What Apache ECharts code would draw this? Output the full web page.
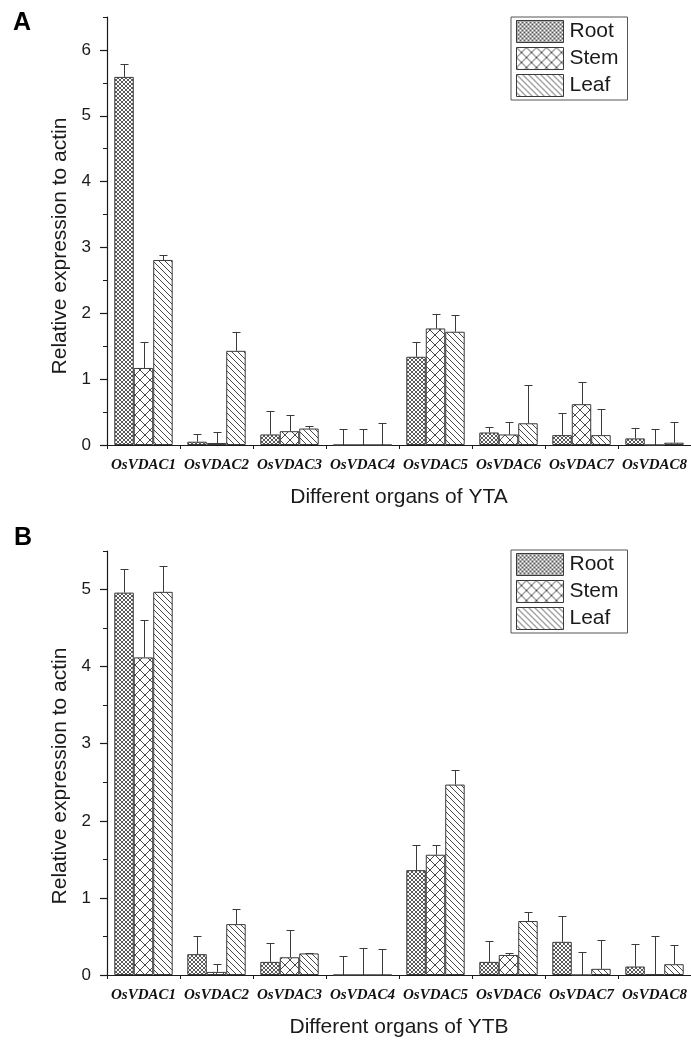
<!DOCTYPE html>
<html><head><meta charset="utf-8">
<script src="https://cdn.jsdelivr.net/npm/echarts@6/dist/echarts.min.js"></script>
<style>html,body{margin:0;padding:0;background:#fff}#c{width:691px;height:1045px}</style>
</head><body><div id="c"></div>
<script>
// ---- data ----
const categories = ['OsVDAC1','OsVDAC2','OsVDAC3','OsVDAC4','OsVDAC5','OsVDAC6','OsVDAC7','OsVDAC8'];
const organs = ['Root','Stem','Leaf'];

// Panel A (YTA)
const rootA    = [5.59, 0.05, 0.16, 0, 1.34, 0.19, 0.15, 0.10];
const stemA    = [1.17, 0.03, 0.21, 0, 1.77, 0.16, 0.62, 0];
const leafA    = [2.81, 1.43, 0.25, 0, 1.72, 0.33, 0.15, 0.035];
const rootErrA = [0.19, 0.11, 0.36, 0.25, 0.22, 0.09, 0.33, 0.16];
const stemErrA = [0.40, 0.17, 0.25, 0.25, 0.22, 0.19, 0.33, 0.24];
const leafErrA = [0.08, 0.28, 0.04, 0.34, 0.26, 0.58, 0.39, 0.31];

// Panel B (YTB)
const rootB    = [4.96, 0.27, 0.17, 0, 1.36, 0.17, 0.43, 0.11];
const stemB    = [4.12, 0.04, 0.23, 0, 1.56, 0.26, 0, 0.01];
const leafB    = [4.97, 0.66, 0.28, 0, 2.47, 0.70, 0.08, 0.14];
const rootErrB = [0.31, 0.24, 0.24, 0.25, 0.32, 0.27, 0.33, 0.29];
const stemErrB = [0.48, 0.10, 0.35, 0.35, 0.12, 0.03, 0.30, 0.50];
const leafErrB = [0.34, 0.20, 0.01, 0.34, 0.19, 0.12, 0.38, 0.25];

const yTicksA = [0, 1, 2, 3, 4, 5, 6];
const yMinorA = [0.5, 1.5, 2.5, 3.5, 4.5, 5.5, 6.5];
const yTicksB = [0, 1, 2, 3, 4, 5];
const yMinorB = [0.5, 1.5, 2.5, 3.5, 4.5, 5.5];
const yMaxA = 6.5, yMaxB = 5.5;

// ---- patterns ----
function pattern(kind) {
  const s = kind === 'root' ? 4 : (kind === 'stem' ? 10 : 6);
  const c = document.createElement('canvas');
  c.width = s; c.height = s;
  const g = c.getContext('2d');
  g.fillStyle = '#fff'; g.fillRect(0, 0, s, s);
  g.strokeStyle = kind === 'root' ? '#5a5a5a' : '#484848';
  g.lineWidth = 1;
  g.beginPath();
  for (let k = -1; k <= 1; k++) {
    g.moveTo(k * s, 0); g.lineTo(k * s + s, s);
    if (kind !== 'leaf') { g.moveTo(k * s + s, 0); g.lineTo(k * s, s); }
  }
  g.stroke();
  return { image: c, repeat: 'repeat' };
}
const fills = { Root: pattern('root'), Stem: pattern('stem'), Leaf: pattern('leaf') };

const FONT = 'Arial, "Liberation Sans", sans-serif';
const SERIF = '"Times New Roman", "Liberation Serif", serif';
const INK = '#1a1a1a';
const CAT_GAP = 0.2;

function errRender(params, api) {
  const cat = api.value(0), mean = api.value(1), err = api.value(2), k = api.value(3);
  const band = api.size([1, 0])[0];
  const bw = band * (1 - CAT_GAP) / 3;
  const base = api.coord([cat, mean]);
  const top = api.coord([cat, mean + err]);
  const x = Math.round(base[0] + (k - 1) * bw) + 0.5;
  const yt = Math.round(top[1]) + 0.5;
  const st = { stroke: '#3a3a3a', lineWidth: 1 };
  return { type: 'group', children: [
    { type: 'line', shape: { x1: x, y1: base[1], x2: x, y2: yt }, style: st },
    { type: 'line', shape: { x1: x - 4, y1: yt, x2: x + 4, y2: yt }, style: st }
  ]};
}

function errData(r, s, l, re, se, le) {
  const out = [];
  categories.forEach((c, i) => {
    out.push([i, r[i], re[i], 0]);
    out.push([i, s[i], se[i], 1]);
    out.push([i, l[i], le[i], 2]);
  });
  return out;
}

function xAxes(gi, title) {
  return [
    { type: 'category', gridIndex: gi, data: categories, position: 'bottom',
      axisLine: { lineStyle: { color: INK, width: 1.2 } },
      axisTick: { alignWithLabel: true, length: 8, lineStyle: { color: INK, width: 1.2 } },
      axisLabel: { interval: 0, hideOverlap: false, margin: 13, fontSize: 15, fontFamily: SERIF,
        fontWeight: 'bold', fontStyle: 'italic', color: '#111' },
      name: title, nameLocation: 'middle', nameGap: 42,
      nameTextStyle: { fontSize: 21, fontFamily: FONT, color: INK } },
    { type: 'category', gridIndex: gi, data: categories, position: 'bottom',
      axisLine: { show: false },
      axisTick: { show: true, interval: 0, length: 4, lineStyle: { color: INK, width: 1 } },
      axisLabel: { show: false } }
  ];
}
function yAxes(gi, max, ticks, minor) {
  return [
    { type: 'value', gridIndex: gi, min: 0, max: max, interval: 0.5, position: 'left',
      axisLine: { show: true, lineStyle: { color: INK, width: 1.2 } },
      axisTick: { show: true, customValues: ticks, length: 7, lineStyle: { color: INK, width: 1.2 } },
      axisLabel: { customValues: ticks, margin: 16, fontSize: 17, fontFamily: FONT, color: INK },
      splitLine: { show: false } },
    { type: 'value', gridIndex: gi, min: 0, max: max, interval: 0.5, position: 'left',
      axisLine: { show: false },
      axisTick: { show: true, customValues: minor, length: 4, lineStyle: { color: INK, width: 1 } },
      axisLabel: { show: false }, splitLine: { show: false } }
  ];
}

function bars(xi, yi, arrs) {
  return organs.map((o, k) => ({
    name: o, type: 'bar', xAxisIndex: xi, yAxisIndex: yi,
    data: arrs[k], barGap: '0%', barCategoryGap: (CAT_GAP * 100) + '%',
    itemStyle: { color: fills[o], borderColor: '#3a3a3a', borderWidth: 1 },
    emphasis: { disabled: true }, animation: false
  }));
}

function legend(top) {
  return { left: 511, top: top, orient: 'vertical', data: organs, icon: 'rect',
    itemWidth: 47, itemHeight: 22, itemGap: 4, padding: [3, 9, 3, 5],
    borderColor: '#555', borderWidth: 1, selectedMode: false,
    itemStyle: { borderColor: '#3a3a3a', borderWidth: 1 },
    textStyle: { fontSize: 21, fontFamily: FONT, color: INK, padding: [0, 0, 0, 1] } };
}

const chart = echarts.init(document.getElementById('c'), null, { renderer: 'canvas' });
chart.setOption({
  backgroundColor: '#fff',
  animation: false,
  grid: [
    { left: 107, right: 0, top: 17, height: 428 },
    { left: 107, right: 0, top: 551, height: 424 }
  ],
  xAxis: [...xAxes(0, 'Different organs of YTA'), ...xAxes(1, 'Different organs of YTB')],
  yAxis: [...yAxes(0, yMaxA, yTicksA, yMinorA), ...yAxes(1, yMaxB, yTicksB, yMinorB)],
  legend: [legend(17), legend(550)],
  series: [
    ...bars(0, 0, [rootA, stemA, leafA]),
    ...bars(2, 2, [rootB, stemB, leafB]),
    { type: 'custom', xAxisIndex: 0, yAxisIndex: 0, renderItem: errRender, z: 5,
      encode: { x: 0, y: 1 }, data: errData(rootA, stemA, leafA, rootErrA, stemErrA, leafErrA), silent: true },
    { type: 'custom', xAxisIndex: 2, yAxisIndex: 2, renderItem: errRender, z: 5,
      encode: { x: 0, y: 1 }, data: errData(rootB, stemB, leafB, rootErrB, stemErrB, leafErrB), silent: true }
  ],
  graphic: [
    { type: 'text', left: 13, top: 11, style: { text: 'A', font: 'bold 25px ' + FONT, fill: '#000' } },
    { type: 'text', left: 14, top: 526, style: { text: 'B', font: 'bold 25px ' + FONT, fill: '#000' } },
    { type: 'text', x: 60, y: 246, rotation: Math.PI / 2,
      style: { text: 'Relative expression to actin', font: '21px ' + FONT, fill: INK, align: 'center', verticalAlign: 'middle' } },
    { type: 'text', x: 60, y: 776, rotation: Math.PI / 2,
      style: { text: 'Relative expression to actin', font: '21px ' + FONT, fill: INK, align: 'center', verticalAlign: 'middle' } }
  ]
});
</script>
</body></html>
